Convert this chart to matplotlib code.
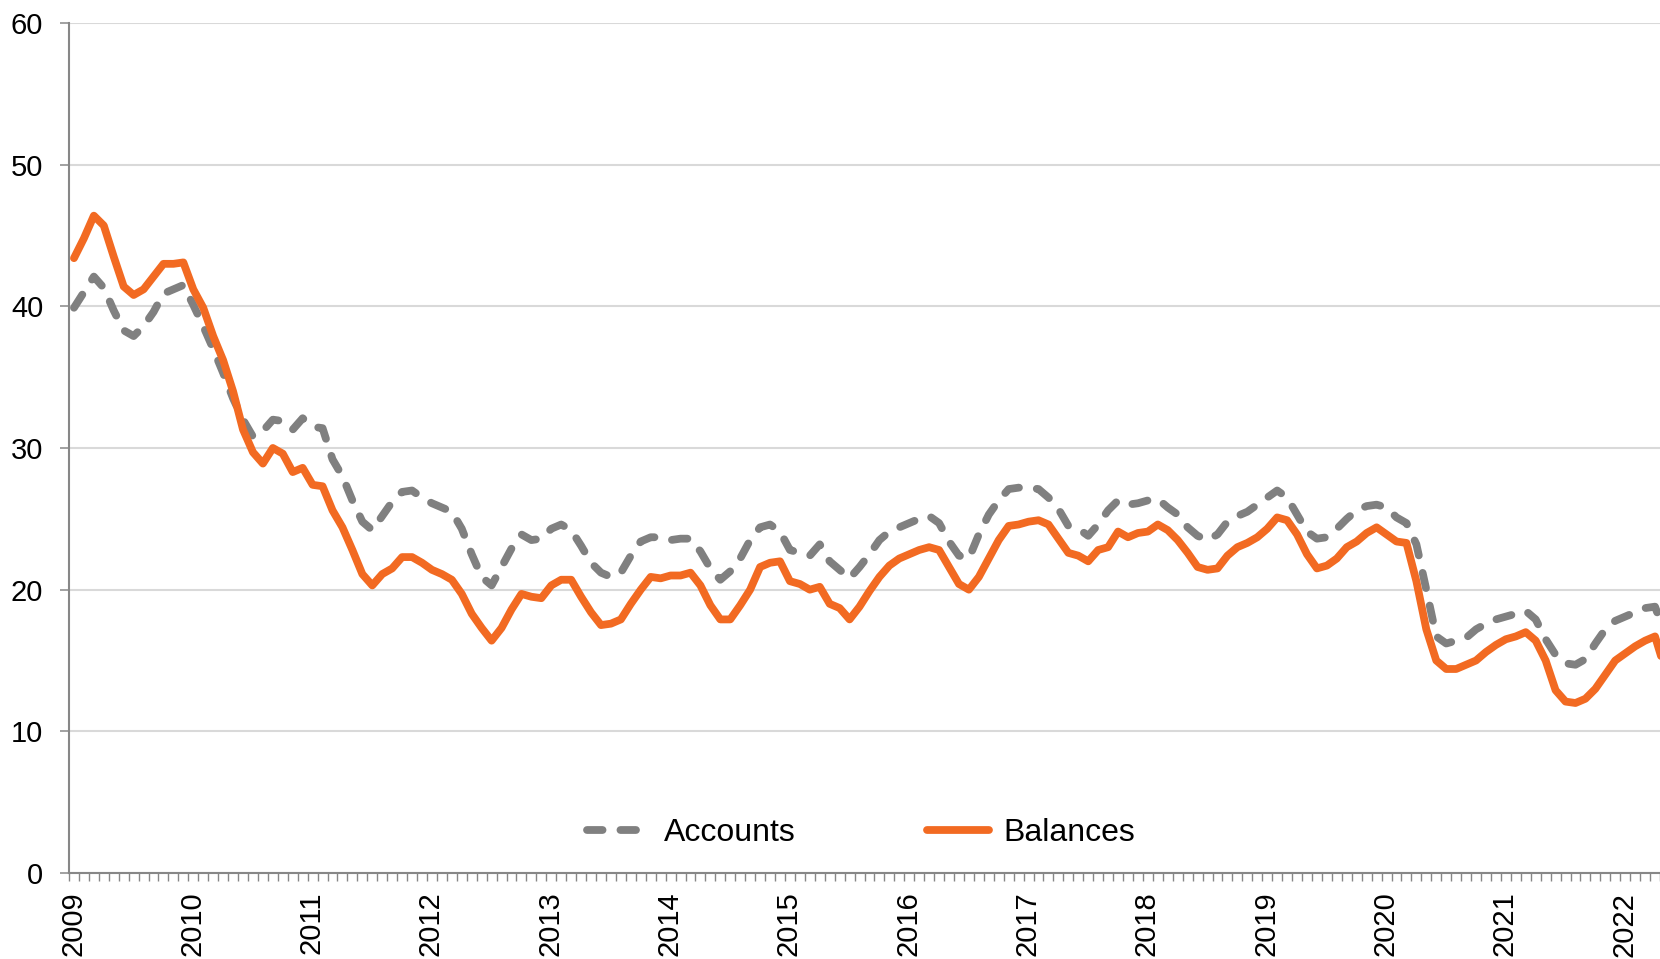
import matplotlib
matplotlib.use("Agg")
import matplotlib.pyplot as plt
import matplotlib.transforms as mtransforms
from matplotlib.ticker import MultipleLocator, FixedLocator
import numpy as np
import pandas as pd

plt.rcParams['font.family'] = ['Liberation Sans', 'DejaVu Sans']

# ---------------- data ----------------
months = pd.date_range("2009-01-01", periods=161, freq="MS")

accounts = [
    39.9, 41.0, 42.1, 41.3, 39.7, 38.3, 37.9, 38.6, 39.6, 40.9, 41.2, 41.5,   # 2009
    40.1, 38.6, 37.0, 35.3, 33.5, 32.0, 30.8, 31.2, 32.0, 31.9, 31.3, 32.1,   # 2010
    31.5, 31.4, 29.2, 28.0, 26.3, 24.8, 24.2, 25.2, 26.2, 26.9, 27.0, 26.5,   # 2011
    26.1, 25.8, 25.5, 24.3, 22.5, 20.9, 20.3, 21.6, 22.9, 23.9, 23.5, 23.6,   # 2012
    24.3, 24.6, 24.2, 23.1, 21.9, 21.2, 20.9, 21.2, 22.4, 23.4, 23.7, 23.7,   # 2013
    23.5, 23.6, 23.6, 22.7, 21.5, 20.7, 21.3, 22.2, 23.5, 24.4, 24.6, 24.1,   # 2014
    22.8, 22.6, 22.4, 23.2, 22.0, 21.4, 20.8, 21.6, 22.5, 23.5, 24.1, 24.4,   # 2015
    24.7, 25.0, 25.2, 24.7, 23.4, 22.4, 22.2, 23.9, 25.3, 26.3, 27.1, 27.2,   # 2016
    27.2, 27.1, 26.5, 25.7, 24.5, 24.3, 23.8, 24.6, 25.6, 26.3, 26.0, 26.1,   # 2017
    26.3, 26.4, 25.8, 25.3, 24.4, 23.8, 23.5, 23.9, 24.8, 25.2, 25.5, 26.0,   # 2018
    26.5, 27.0, 26.5, 25.3, 24.1, 23.6, 23.7, 24.3, 25.0, 25.6, 25.9, 26.0,   # 2019
    25.8, 25.1, 24.7, 23.2, 20.0, 16.7, 16.2, 16.4, 16.6, 17.2, 17.6, 17.9,   # 2020
    18.1, 18.3, 18.5, 17.9, 16.5, 15.4, 14.8, 14.7, 15.1, 16.2, 17.2, 17.8,   # 2021
    18.1, 18.4, 18.7, 18.8, 16.9,                                             # 2022
]

balances = [
    43.4, 44.8, 46.4, 45.7, 43.5, 41.4, 40.8, 41.2, 42.1, 43.0, 43.0, 43.1,   # 2009
    41.2, 39.9, 37.9, 36.2, 34.0, 31.3, 29.7, 28.9, 30.0, 29.6, 28.3, 28.6,   # 2010
    27.4, 27.3, 25.6, 24.4, 22.8, 21.1, 20.3, 21.1, 21.5, 22.3, 22.3, 21.9,   # 2011
    21.4, 21.1, 20.7, 19.7, 18.3, 17.3, 16.4, 17.3, 18.6, 19.7, 19.5, 19.4,   # 2012
    20.3, 20.7, 20.7, 19.5, 18.4, 17.5, 17.6, 17.9, 19.0, 20.0, 20.9, 20.8,   # 2013
    21.0, 21.0, 21.2, 20.3, 18.9, 17.9, 17.9, 18.9, 20.0, 21.6, 21.9, 22.0,   # 2014
    20.6, 20.4, 20.0, 20.2, 19.0, 18.7, 17.9, 18.8, 19.9, 20.9, 21.7, 22.2,   # 2015
    22.5, 22.8, 23.0, 22.8, 21.6, 20.4, 20.0, 20.9, 22.2, 23.5, 24.5, 24.6,   # 2016
    24.8, 24.9, 24.6, 23.6, 22.6, 22.4, 22.0, 22.8, 23.0, 24.1, 23.7, 24.0,   # 2017
    24.1, 24.6, 24.2, 23.5, 22.6, 21.6, 21.4, 21.5, 22.4, 23.0, 23.3, 23.7,   # 2018
    24.3, 25.1, 24.9, 23.9, 22.5, 21.5, 21.7, 22.2, 23.0, 23.4, 24.0, 24.4,   # 2019
    23.9, 23.4, 23.3, 20.6, 17.2, 15.0, 14.4, 14.4, 14.7, 15.0, 15.6, 16.1,   # 2020
    16.5, 16.7, 17.0, 16.4, 15.0, 12.9, 12.1, 12.0, 12.3, 13.0, 14.0, 15.0,   # 2021
    15.5, 16.0, 16.4, 16.7, 14.4,                                             # 2022
]

series_names = ["Accounts", "Balances"]
year_labels = [str(y) for y in range(2009, 2023)]
y_ticks = [0, 10, 20, 30, 40, 50, 60]

# ---------------- styling ----------------
GRAY = "#808080"
ORANGE = "#F26A22"
AXIS = "#878787"
GRID = "#D9D9D9"

fig = plt.figure(figsize=(16.6, 9.59), dpi=100)
W, H = 1660, 959
ax = fig.add_axes([69 / W, 1 - 873 / H, (W - 69) / W, (873 - 23) / H])

# category positions: each month sits in the middle of its slot
x = np.arange(len(months)) + 0.5

lw = 5.6
l1, = ax.plot(x, accounts, color=GRAY, lw=lw, dashes=(2.0, 2.3),
              dash_capstyle="round", solid_capstyle="round",
              dash_joinstyle="round", label=series_names[0], zorder=3)
l2, = ax.plot(x, balances, color=ORANGE, lw=lw, solid_capstyle="round",
              solid_joinstyle="round", label=series_names[1], zorder=4)

ax.set_xlim(0, 160)
ax.set_ylim(0, 60)

ax.set_yticks(y_ticks)
ax.set_yticklabels([str(v) for v in y_ticks])
ax.yaxis.grid(True, color=GRID, lw=1.5)
ax.set_axisbelow(True)

year_pos = [12 * i for i in range(len(year_labels))]
ax.xaxis.set_major_locator(FixedLocator(year_pos))
ax.set_xticklabels(year_labels, rotation=90, va="top", ha="center")
ax.xaxis.set_minor_locator(MultipleLocator(1))

for s in ["top", "right"]:
    ax.spines[s].set_visible(False)
for s in ["left", "bottom"]:
    ax.spines[s].set_color(AXIS)
    ax.spines[s].set_linewidth(1.5)

ax.tick_params(axis="y", which="major", length=6.5, width=1.1, color=AXIS,
               pad=12, labelsize=21, labelcolor="black")
ax.tick_params(axis="x", which="both", length=5.5, width=1.0, color=AXIS,
               direction="out", pad=8, labelsize=21, labelcolor="black")

offset = mtransforms.ScaledTranslation(4 / 100, 0, fig.dpi_scale_trans)
for lab in ax.get_xticklabels():
    lab.set_transform(lab.get_transform() + offset)

leg = ax.legend(handles=[l1, l2], loc="center", bbox_to_anchor=(0.498, 0.047),
                ncol=2, frameon=False, fontsize=23, handlelength=1.95,
                handletextpad=0.45, columnspacing=4.1)

fig.savefig("out.png", dpi=100)
